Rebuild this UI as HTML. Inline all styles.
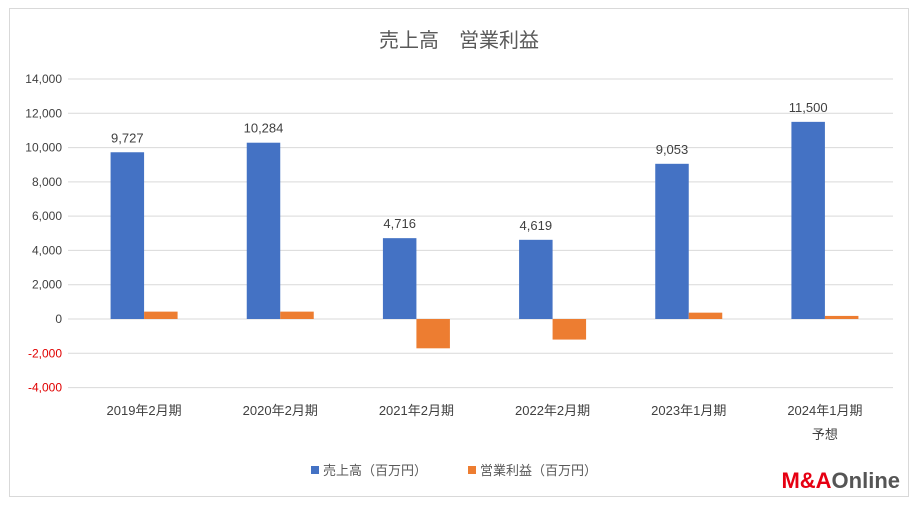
<!DOCTYPE html>
<html><head><meta charset="utf-8"><style>
body{margin:0;background:#fff;font-family:"Liberation Sans","Noto Sans CJK JP",sans-serif}
svg text{font-family:"Liberation Sans","Noto Sans CJK JP",sans-serif}
</style></head><body>
<svg width="917" height="505" viewBox="0 0 917 505">
<rect x="9.5" y="8.5" width="899" height="488" fill="#fff" stroke="#d9d9d9"/>
<text x="459" y="47" text-anchor="middle" font-size="20" fill="#595959">売上高　営業利益</text>
<g id="grid"></g><g id="bars"></g><g id="labels"></g>
<g>
<rect x="311" y="466" width="8" height="8" fill="#4472c4"/>
<text x="323" y="475" font-size="13" fill="#595959">売上高（百万円）</text>
<rect x="468" y="466" width="8" height="8" fill="#ed7d31"/>
<text x="480" y="475" font-size="13" fill="#595959">営業利益（百万円）</text>
</g>
<text x="900" y="488" text-anchor="end" font-size="22" font-weight="bold"><tspan fill="#e60012">M&amp;A</tspan><tspan fill="#555">Online</tspan></text>
</svg>
<script>
const categories=["2019年2月期","2020年2月期","2021年2月期","2022年2月期","2023年1月期","2024年1月期"];
const categorySub=["","","","","","予想"];
const sales=[9727,10284,4716,4619,9053,11500];
const profit=[430,430,-1710,-1200,370,180];
const ticks=[-4000,-2000,0,2000,4000,6000,8000,10000,12000,14000];
const ns="http://www.w3.org/2000/svg";
const gx0=68,x0=76,x1=893,yZero=319,pxPer=240/14000;
const y=v=>yZero-v*pxPer;
const cw=(x1-x0)/categories.length;
function mk(t,a,p){const e=document.createElementNS(ns,t);for(const k in a)e.setAttribute(k,a[k]);p.appendChild(e);return e;}
const G=document.getElementById('grid'),B=document.getElementById('bars'),L=document.getElementById('labels');
ticks.forEach(t=>{
 const l=mk('line',{x1:gx0,x2:x1,y1:y(t),y2:y(t),stroke:'#d9d9d9','stroke-width':1},G);
 
 
 const tx=mk('text',{x:62,y:y(t)+4,'text-anchor':'end','font-size':12,fill:t<0?'#e00000':'#404040'},G);
 tx.textContent=t.toLocaleString('en-US');
 
 
});
const bw=33.5;
categories.forEach((c,i)=>{
 const cx=x0+cw*(i+0.5);
 const s=sales[i];
 const r=mk('rect',{x:cx-bw,y:y(s),width:bw,height:y(0)-y(s),fill:'#4472c4'},B);
 
 
 const p=profit[i];
 const r2=mk('rect',{x:cx,y:Math.min(y(p),y(0)),width:bw,height:Math.abs(y(p)-y(0)),fill:'#ed7d31'},B);
 
 
 const v=mk('text',{x:cx-bw/2,y:y(s)-10,'text-anchor':'middle','font-size':13,fill:'#404040'},L);
 v.textContent=s.toLocaleString('en-US');
 
 
 const cl=mk('text',{x:cx,y:415,'text-anchor':'middle','font-size':13,fill:'#404040'},L);
 cl.textContent=c;
 
 
 if(categorySub[i]){const s2=mk('text',{x:cx,y:439,'text-anchor':'middle','font-size':13,fill:'#404040'},L);
 s2.textContent=categorySub[i];
 
 }
});
</script>
</body></html>
